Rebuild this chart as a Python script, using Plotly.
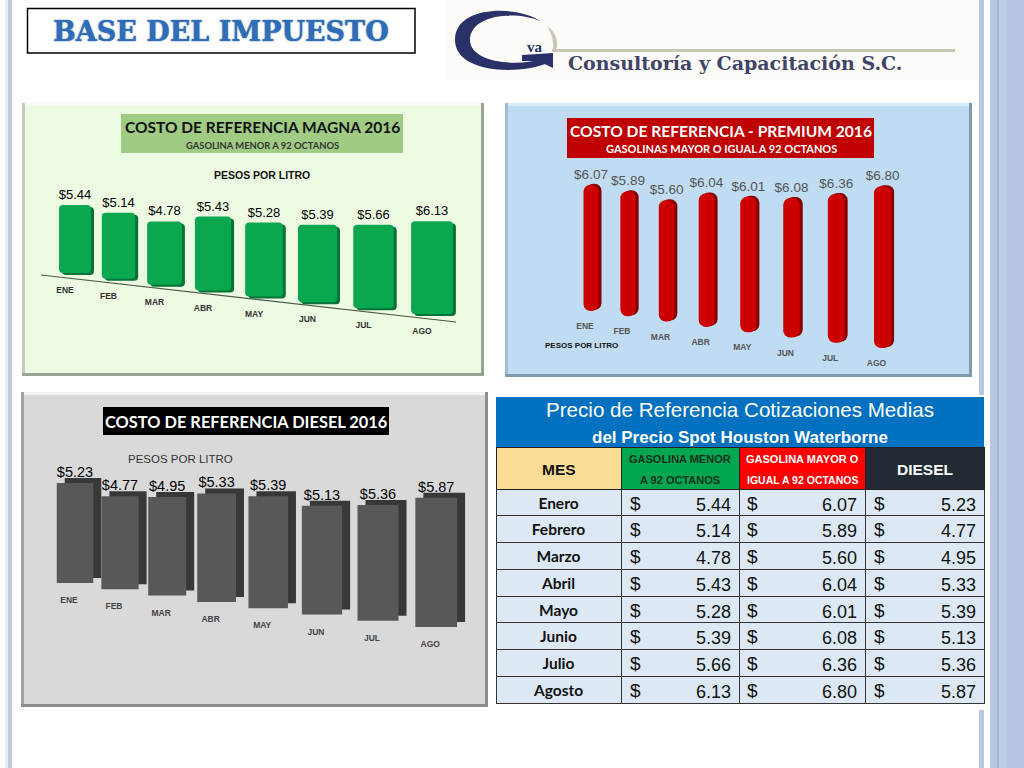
import plotly.graph_objects as go

# ---------- data ----------
MONTHS_SHORT = ["ENE", "FEB", "MAR", "ABR", "MAY", "JUN", "JUL", "AGO"]
MONTHS_LONG = ["Enero", "Febrero", "Marzo", "Abril", "Mayo", "Junio", "Julio", "Agosto"]
MAGNA = [5.44, 5.14, 4.78, 5.43, 5.28, 5.39, 5.66, 6.13]
PREMIUM = [6.07, 5.89, 5.60, 6.04, 6.01, 6.08, 6.36, 6.80]
DIESEL = [5.23, 4.77, 4.95, 5.33, 5.39, 5.13, 5.36, 5.87]

W, H = 1024, 768
SANS = "Liberation Sans"
CAL = "Lato"
NARROW = "Liberation Sans Narrow, Liberation Sans"


def X(p):
    return p / W


def Y(p):
    return 1 - p / H


shapes = []
annots = []


def rect(x0, y0, x1, y1, fill, line=None, lw=1):
    shapes.append(dict(type="rect", xref="paper", yref="paper", x0=X(x0), x1=X(x1), y0=Y(y0), y1=Y(y1),
                       fillcolor=fill, line=dict(color=line or fill, width=lw if line else 0), layer="below"))


def path(points, fill):
    s = " ".join(
        f"{c} " + " ".join(f"{X(px):.5f},{Y(py):.5f}" for px, py in pts) if pts else c
        for c, pts in points)
    shapes.append(dict(type="path", xref="paper", yref="paper", path=s, fillcolor=fill,
                       line=dict(width=0), layer="below"))


def text(x, y, s, size, color="#000", family=SANS, anchor="center", **kw):
    annots.append(dict(xref="paper", yref="paper", x=X(x), y=Y(y), text=s, showarrow=False,
                       xanchor=anchor, yanchor="middle", font=dict(size=size, color=color, family=family, **kw)))


def bevel(x0, y0, x1, y1, face, light, side, dark, t=3):
    rect(x0, y0, x1, y1, dark)
    rect(x0, y0, x1 - t, y0 + t, light)
    rect(x0, y0, x0 + t, y1 - t, side)
    rect(x0 + t, y0 + t, x1 - t, y1 - t, face)


# ---------- slide decoration ----------
rect(5, 0, 8, H, "#e9edf5")
rect(8, 0, 12, H, "#bccbe2")
rect(979, 0, 984, 395, "#bac7df")
rect(979, 710, 984, H, "#bac7df")
rect(990, 0, W, H, "#b8c7e1")
rect(998, 0, 1007, H, "#bfcde4")
rect(997.5, 0, 998.5, H, "#7f9fc9")

# ---------- heading ----------
rect(27.5, 8.5, 415, 53, "#ffffff", "#000000", 1.5)
text(221, 31, "<b>BASE DEL IMPUESTO</b>", 27, "#2f6db8", "DejaVu Serif", shadow="0px 0px 1.5px #1d4f91")

# ---------- logo ----------
rect(447, 0, 978, 80, "#fcfbf8")
path([("M", [(540, 21)]), ("C", [(520, 6), (455, 4), (455, 40)]), ("C", [(455, 72), (515, 76), (548, 63)]),
      ("L", [(546, 58)]), ("C", [(515, 68), (470, 62), (470, 40)]), ("C", [(470, 15), (515, 10), (540, 21)]),
      ("Z", [])], "#2a3068")
path([("M", [(547, 26)]), ("C", [(556, 32), (559, 42), (556, 50)]), ("L", [(553, 50)]),
      ("C", [(554, 42), (552, 34), (547, 26)]), ("Z", [])], "#c9c6b5")
rect(552, 49, 955, 52, "#c9c6b5")
path([("M", [(522, 55)]), ("L", [(553, 53)]), ("L", [(553, 68)]), ("L", [(538, 61)]), ("L", [(522, 61)]),
      ("Z", [])], "#2a3068")
text(535, 47, "<b>va</b>", 15, "#2a3068", "Liberation Serif")
text(735, 63, "<b>Consultoría y Capacitación S.C.</b>", 19, "#3f4468", "DejaVu Serif")

# ---------- panels ----------
bevel(22, 103, 484, 376, "#eefbe3", "#f7fcf2", "#c3cbbd", "#98a394")
bevel(505, 103, 972, 377, "#bfdcf3", "#d9edf8", "#a4bccf", "#7f99ad")
bevel(21, 392, 488, 707, "#dad9da", "#f4f4f4", "#a0a0a0", "#8d8d8d")

# panel headers
rect(121, 114, 403, 153, "#a0cb82")
text(262, 127, "<b>COSTO DE REFERENCIA MAGNA 2016</b>", 15.5, "#111", CAL)
text(262, 145, "<b>GASOLINA MENOR A 92 OCTANOS</b>", 9.4, "#333", CAL)
text(262, 175, "<b>PESOS POR LITRO</b>", 10.5, "#111", SANS)

rect(567, 118, 874, 158, "#c00000")
text(721, 131, "<b>COSTO DE REFERENCIA - PREMIUM 2016</b>", 15.6, "#fff", CAL)
text(721, 149, "<b>GASOLINAS MAYOR O IGUAL A 92 OCTANOS</b>", 11, "#fff", CAL)
text(581, 346, "<b>PESOS POR LITRO</b>", 8, "#111", SANS)

rect(103, 407, 389, 435, "#000000")
text(246, 421, "<b>COSTO DE REFERENCIA DIESEL 2016</b>", 16.4, "#fff", CAL)
text(180, 459, "PESOS POR LITRO", 11.5, "#333", SANS)

# Magna floor line
shapes.append(dict(type="line", xref="paper", yref="paper", x0=X(41), y0=Y(275), x1=X(456), y1=Y(322),
                   line=dict(color="#4d5a48", width=1.2), layer="below"))

# ---------- chart perspective settings ----------
CHARTS = [
    dict(values=MAGNA, box=(22, 104, 484, 376), x0=75, dx=43.5, ddx=2.5, w0=32, dw=1.4,
         floor0=273, slope=5.86, scale=12.5, grow=0.03, front="#09a84e", back="#067238",
         shift=(3, -2), radius=4, label="#000000", lsize=13, tick="#333333", tick_dx=-10, tick_dy=18),
    dict(values=PREMIUM, box=(505, 104, 972, 377), x0=591, dx=37, ddx=1.55, w0=15, dw=0.3,
         floor0=311, slope=5.3, scale=20.8, grow=0.0207, front="#cc0000", back="#860000",
         shift=(3, 1), radius=7, label="#555555", lsize=13.5, tick="#555555", tick_dx=-6, tick_dy=16),
    dict(values=DIESEL, box=(21, 392, 488, 707), x0=75, dx=45, ddx=2.2, w0=36.5, dw=0.75,
         floor0=583, slope=6.3, scale=19.1, grow=0.022, front="#585858", back="#383838",
         shift=(8, 5), radius=0, label="#000000", lsize=14.5, tick="#444444", tick_dx=-6, tick_dy=18),
]

fig = go.Figure()

for n, c in enumerate(CHARTS, start=1):
    bx0, by0, bx1, by1 = c["box"]
    idx = range(len(c["values"]))
    xs = [c["x0"] + c["dx"] * i + c["ddx"] * i * (i - 1) / 2 for i in idx]
    ws = [c["w0"] + c["dw"] * i for i in idx]
    # floor of each bar, in pesos measured down from the panel top
    floors = [-(c["floor0"] + c["slope"] * i - by0) / c["scale"] for i in idx]
    ys = [v * (1 + c["grow"] * i) for i, v in enumerate(c["values"])]
    sx, sy = c["shift"]
    ax = "" if n == 1 else str(n)
    common = dict(xaxis=f"x{ax}", yaxis=f"y{ax}", showlegend=False, cliponaxis=False)
    fig.add_trace(go.Bar(x=[x + sx for x in xs], y=ys, base=[f + sy / c["scale"] for f in floors], width=ws,
                         marker=dict(color=c["back"], line=dict(width=0), cornerradius=c["radius"]),
                         hoverinfo="skip", **common))
    fig.add_trace(go.Bar(x=xs, y=ys, base=floors, width=ws,
                         marker=dict(color=c["front"], line=dict(width=0), cornerradius=c["radius"]),
                         text=[f"${v:.2f}" for v in c["values"]], textposition="outside",
                         textangle=0, constraintext="none",
                         textfont=dict(size=c["lsize"], color=c["label"], family=SANS), **common))
    fig.add_trace(go.Scatter(x=[x + c["tick_dx"] for x in xs],
                             y=[f - c["tick_dy"] / c["scale"] for f in floors],
                             mode="text", text=MONTHS_SHORT, hoverinfo="skip",
                             textfont=dict(size=8.5, color=c["tick"], family=NARROW),
                             texttemplate="<b>%{text}</b>", **common))
    axis_common = dict(visible=False, fixedrange=True, showgrid=False, zeroline=False)
    fig.update_layout({
        f"xaxis{ax}": dict(domain=[X(bx0), X(bx1)], range=[bx0, bx1], anchor=f"y{ax}", **axis_common),
        f"yaxis{ax}": dict(domain=[Y(by1), Y(by0)], range=[-(by1 - by0) / c["scale"], 0], anchor=f"x{ax}", **axis_common),
    })

# ---------- table ----------
rect(496, 397, 984, 447, "#0070c0")
text(740, 409, "Precio de Referencia Cotizaciones Medias", 20.6, "#fff", SANS)
text(740, 437, "<b>del Precio Spot Houston Waterborne</b>", 17, "#fff", SANS)

fig.add_trace(go.Table(
    domain=dict(x=[X(496), X(984)], y=[Y(704.5), Y(447)]),
    columnwidth=[125, 118, 126, 119],
    header=dict(
        values=[" ", " ", " ", " "],
        fill_color=["#fbdc94", "#00a650", "#fe0000", "#222a35"],
        line=dict(color="#222222", width=1), height=42, font=dict(size=10)),
    cells=dict(
        values=[MONTHS_LONG, [f"{v:.2f}" for v in MAGNA],
                [f"{v:.2f}" for v in PREMIUM], [f"{v:.2f}" for v in DIESEL]],
        fill_color="#dce9f5", line=dict(color="#333333", width=1), height=26.75,
        align=["center", "right", "right", "right"],
        font=dict(family=[CAL, SANS, SANS, SANS], size=[15.5, 18, 18, 18], color="#111",
                  weight=[700, 400, 400, 400]))))

# header wording sits over the table's header cells
text(559, 469, "<b>MES</b>", 15.5, "#111", SANS)
text(680, 459, "<b>GASOLINA MENOR</b>", 11, "#10301c", SANS)
text(680, 480, "<b>A 92 OCTANOS</b>", 11, "#10301c", SANS)
text(802, 459, "<b>GASOLINA MAYOR O</b>", 11, "#fff", SANS)
text(802, 480, "<b>IGUAL A 92 OCTANOS</b>", 10.5, "#fff", SANS)
text(925, 469, "<b>DIESEL</b>", 15.5, "#fff", SANS)

for r in range(len(MONTHS_LONG)):
    for cx in (635, 752, 879):
        text(cx, 503 + r * 26.75, "$", 19, "#111", SANS)

fig.update_layout(width=W, height=H, margin=dict(l=0, r=0, t=0, b=0), autosize=False,
                  paper_bgcolor="#ffffff", plot_bgcolor="rgba(0,0,0,0)",
                  barmode="overlay", shapes=shapes, annotations=annots, showlegend=False)

fig.write_html("out.html", config=dict(displayModeBar=False),
               post_script="document.body.style.margin='0';")
